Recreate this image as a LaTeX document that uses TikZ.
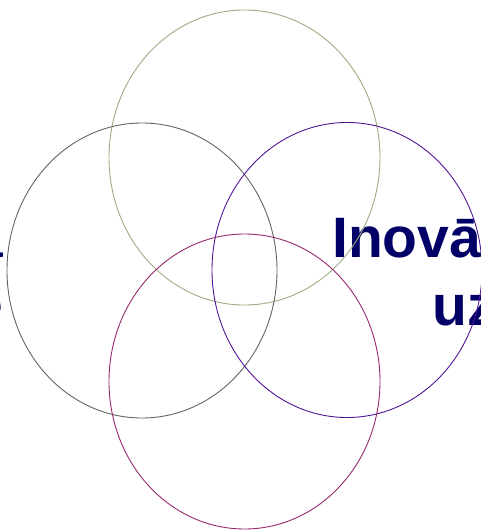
\documentclass[tikz,border=0pt]{standalone}
\usepackage{fontspec}
\setmainfont{Liberation Sans}
\definecolor{navy}{RGB}{0,0,102}
\definecolor{sage}{RGB}{158,172,130}
\definecolor{slate}{RGB}{100,100,100}
\definecolor{indigo}{RGB}{80,20,150}
\definecolor{plum}{RGB}{150,40,110}
\tikzset{
  ring/.style={line width=0.9pt},
  word/.style={inner sep=0pt,text=navy,font={\fontsize{57}{68}\selectfont\bfseries}}
}

\begin{document}
\begin{tikzpicture}[x=1pt,y=-1pt]
	\useasboundingbox (0,0) rectangle (481,530);
	\clip (0,0) rectangle (481,530);

	% texts, partly outside the page
	\node[word,anchor=base west] (innov) at (332,257) {Inovāc};
	\node[word,anchor=base west] (uz) at (432,325) {uz};
	\node[word,anchor=base east] (lefta) at (3,257) {a};
	\node[word,anchor=base east] (lefte) at (3,323) {e};

	% the four rings
	\draw[ring,sage] (244.5,157.5) ellipse (135.5 and 147.5);
	\draw[ring,slate] (142,270.5) ellipse (135 and 147.5);
	\draw[ring,indigo] (347,270) ellipse (135 and 147.5);
	\draw[ring,plum] (244.5,381.5) ellipse (135.5 and 147.5);

\end{tikzpicture}
\end{document}
